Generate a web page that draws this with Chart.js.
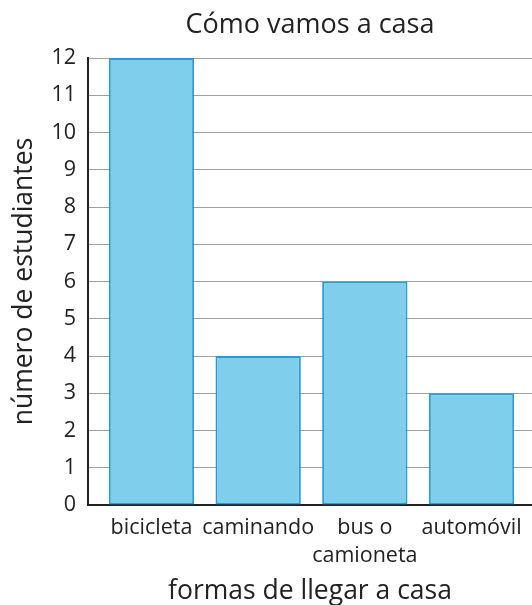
<!DOCTYPE html>
<html>
<head>
<meta charset="utf-8">
<script src="https://cdn.jsdelivr.net/npm/chart.js@4/dist/chart.umd.min.js"></script>
<style>
  html, body { margin: 0; padding: 0; background: #fff; }
  #wrap { width: 532px; height: 605px; position: relative; }
</style>
</head>
<body>
<div id="wrap"><canvas id="c"></canvas></div>
<script>
const chartTitle = 'Cómo vamos a casa';
const categories = ['bicicleta', 'caminando', 'bus o camioneta', 'automóvil'];
const categoryTickLabels = [['bicicleta'], ['caminando'], ['bus o', 'camioneta'], ['automóvil']];
const students = [12, 4, 6, 3];
const yTicks = [0, 1, 2, 3, 4, 5, 6, 7, 8, 9, 10, 11, 12];
const xAxisTitle = 'formas de llegar a casa';
const yAxisTitle = 'número de estudiantes';

const FONT = '"Open Sans", "Noto Sans", sans-serif';
const TEXT = '#222222';

new Chart(document.getElementById('c'), {
  type: 'bar',
  data: {
    datasets: [{
      data: categories.map((c, i) => ({ x: i, y: students[i] })),
      backgroundColor: '#7fcfec',
      borderColor: '#2a9bd5',
      borderWidth: 2,
      borderSkipped: false,
      categoryPercentage: 1,
      barPercentage: 0.8
    }]
  },
  options: {
    responsive: true,
    maintainAspectRatio: false,
    animation: false,
    layout: { padding: 0 },
    plugins: {
      legend: { display: false },
      tooltip: { enabled: false },
      title: {
        display: true,
        fullSize: false,
        text: chartTitle,
        color: TEXT,
        font: { family: FONT, size: 27, weight: 'normal', lineHeight: 1.2 },
        padding: { top: 9, bottom: 16.6 }
      }
    },
    scales: {
      x: {
        type: 'linear',
        offset: false,
        min: -0.595,
        max: 3.567,
        afterFit: s => { s.height = 100; },
        afterBuildTicks: s => { s.ticks = categories.map((c, i) => ({ value: i })); },
        grid: { display: false, drawTicks: false, offset: false },
        border: { display: true, color: '#222', width: 2 },
        ticks: {
          autoSkip: false,
          maxRotation: 0,
          minRotation: 0,
          padding: 9,
          color: TEXT,
          font: { family: FONT, size: 21.5, lineHeight: 1.3 },
          callback: v => categoryTickLabels[v]
        },
        title: {
          display: true,
          text: xAxisTitle,
          color: TEXT,
          font: { family: FONT, size: 26.5, lineHeight: 1.0 },
          padding: { top: 0, bottom: 0 }
        }
      },
      y: {
        min: 0,
        max: 12,
        afterFit: s => { s.width = 88; },
        afterBuildTicks: s => { s.ticks = yTicks.map(v => ({ value: v })); },
        grid: { color: '#a0a0a0', lineWidth: 1, drawTicks: false },
        border: { display: true, color: '#222', width: 2 },
        ticks: {
          padding: 12,
          color: TEXT,
          font: { family: FONT, size: 21.5 }
        },
        title: {
          display: true,
          text: yAxisTitle,
          color: TEXT,
          font: { family: FONT, size: 26.5, lineHeight: 1.2 },
          padding: { top: 9, bottom: 0 }
        }
      }
    }
  }
});
</script>
</body>
</html>
